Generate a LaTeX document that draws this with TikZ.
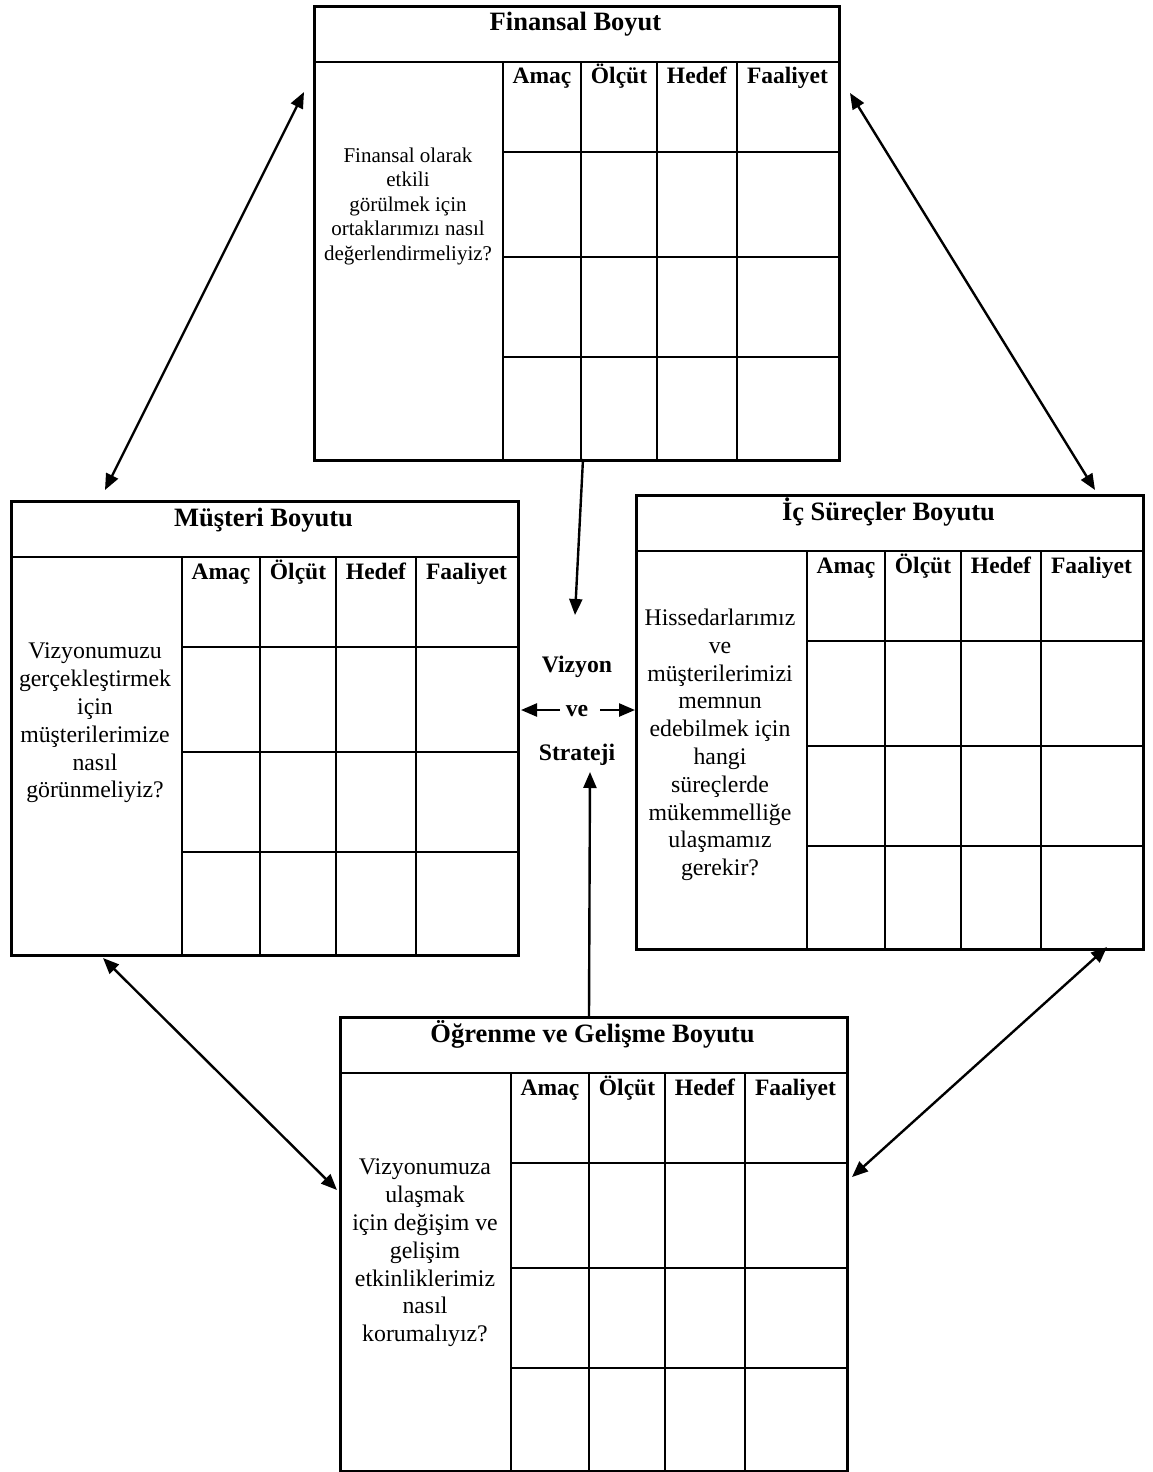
\documentclass[tikz,border=0pt]{standalone}
\usepackage{fontspec}
\setmainfont{Liberation Serif}
\usetikzlibrary{arrows.meta}

\tikzset{
  frame/.style={line width=2.8pt},
  arr/.style={line width=2.4pt, -{Triangle[length=16pt,width=13pt]}},
  darr/.style={line width=2.4pt, {Triangle[length=16pt,width=13pt]}-{Triangle[length=16pt,width=13pt]}},
  ttl/.style={font=\fontsize{26.5}{30}\selectfont\bfseries, anchor=base, inner sep=0pt},
  colhd/.style={font=\fontsize{23.5}{28}\selectfont\bfseries, anchor=base, inner sep=0pt},
  smallbody/.style={align=center, inner sep=0pt, font=\fontsize{21}{24.5}\selectfont},
  body/.style={align=center, inner sep=0pt, font=\fontsize{23.8}{27.8}\selectfont},
  center/.style={font=\fontsize{23.7}{28}\selectfont\bfseries, anchor=base, inner sep=0pt},
}

% #1 name, #2 x, #3 y, #4 left column width, #5 title
\newcommand\bsctable[5]{%
  \begin{scope}[shift={(#2,#3)}]
    \pgfmathsetmacro\bscL{#4}
    \pgfmathsetmacro\bscW{#4+335}
    \node[draw, frame, minimum width=\bscW pt, minimum height=454pt,
          anchor=north west, inner sep=0pt] (#1) at (0,0) {};
    \draw[frame] (0,57) -- (\bscW,57);
    \draw[frame] (\bscL,57) -- (\bscL,454);
    \draw[frame] (\bscL+78,57) -- (\bscL+78,454);
    \draw[frame] (\bscL+154,57) -- (\bscL+154,454);
    \draw[frame] (\bscL+234,57) -- (\bscL+234,454);
    \draw[frame] (\bscL,147) -- (\bscW,147);
    \draw[frame] (\bscL,252) -- (\bscW,252);
    \draw[frame] (\bscL,352) -- (\bscW,352);
    \node[ttl] (#1-t) at (\bscW/2,26) {#5};
    \node[colhd] (#1-c1) at (\bscL+39,79) {Amaç};
    \node[colhd] (#1-c2) at (\bscL+116,79) {Ölçüt};
    \node[colhd] (#1-c3) at (\bscL+194,79) {Hedef};
    \node[colhd] (#1-c4) at (\bscL+284.5,79) {Faaliyet};
  \end{scope}%
}

\begin{document}
\begin{tikzpicture}[x=1pt,y=-1pt]
\useasboundingbox (0,0) rectangle (1152,1472);

\bsctable{fin}{313}{5}{190}{Finansal Boyut}
\bsctable{mus}{10}{500}{172}{Müşteri Boyutu}
\bsctable{ic}{635}{494}{172}{İç Süreçler Boyutu}
\bsctable{ogr}{339}{1016}{172}{Öğrenme ve Gelişme Boyutu}

\node[smallbody] (finq) at (408,206) {Finansal olarak\\etkili\\görülmek için\\ortaklarımızı nasıl\\değerlendirmeliyiz?};
\node[body] (musq) at (95,723) {Vizyonumuzu\\gerçekleştirmek\\için\\müşterilerimize\\nasıl\\görünmeliyiz?};
\node[body] (icq) at (720,745) {Hissedarlarımız\\ve\\müşterilerimizi\\memnun\\edebilmek için\\hangi\\süreçlerde\\mükemmelliğe\\ulaşmamız\\gerekir?};
\node[body] (ogrq) at (425,1253) {Vizyonumuza\\ulaşmak\\için değişim ve\\gelişim\\etkinliklerimiz\\nasıl\\korumalıyız?};

\node[center] (viz) at (577,672) {Vizyon};
\node[center] (ve) at (577,716) {ve};
\node[center] (str) at (577,760) {Strateji};

% connector end points
\coordinate (finB) at (583,459);
\coordinate (vizT) at (575,615);
\coordinate (veL0) at (560,710);
\coordinate (veL1) at (521,710);
\coordinate (veR0) at (600,710);
\coordinate (veR1) at (635,710);
\coordinate (ogrT) at (589,1016);
\coordinate (strB) at (590,772);

\coordinate (fm1) at (304,92);
\coordinate (fm2) at (105,490);
\coordinate (fi1) at (850,93);
\coordinate (fi2) at (1095,490);
\coordinate (mo1) at (103,958);
\coordinate (mo2) at (337,1190);
\coordinate (io1) at (1107,947);
\coordinate (io2) at (852,1177);

\draw[arr] (finB) -- (vizT);
\draw[arr] (veL0) -- (veL1);
\draw[arr] (veR0) -- (veR1);
\draw[arr] (ogrT) -- (strB);

\draw[darr] (fm1) -- (fm2);
\draw[darr] (fi1) -- (fi2);
\draw[darr] (mo1) -- (mo2);
\draw[darr] (io1) -- (io2);
\end{tikzpicture}
\end{document}
